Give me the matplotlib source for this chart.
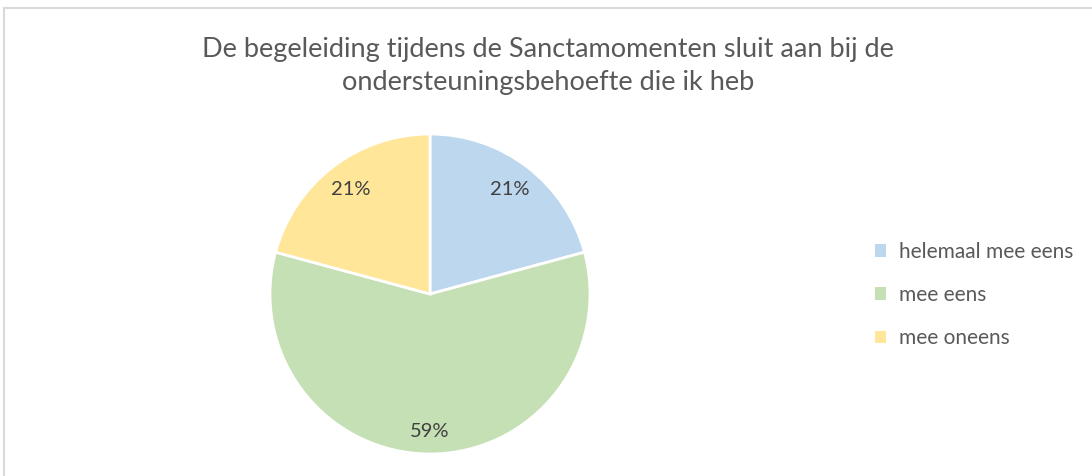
import matplotlib
matplotlib.use("Agg")
import matplotlib.pyplot as plt
from matplotlib.patches import Patch, Rectangle
import numpy as np

title = "De begeleiding tijdens de Sanctamomenten sluit aan bij de\nondersteuningsbehoefte die ik heb"
categories = ["helemaal mee eens", "mee eens", "mee oneens"]
percentages = [21, 59, 21]
pct_labels = ["21%", "59%", "21%"]
colors = ["#BDD7EE", "#C5E0B4", "#FFE699"]

W, H = 1092, 476
fig = plt.figure(figsize=(W / 100, H / 100), dpi=100)
fig.patch.set_facecolor("white")
plt.rcParams["font.family"] = ["Lato", "DejaVu Sans"]

# chart border
fig.add_artist(Rectangle((4 / W, -0.01), 1.1, (H - 8) / H + 0.01, transform=fig.transFigure,
                         fill=False, edgecolor="#D9D9D9", linewidth=1.5))

cx, cy, r = 430, 294, 160
ax = fig.add_axes([(cx - r) / W, (H - cy - r) / H, 2 * r / W, 2 * r / H])
wedges, _ = ax.pie(percentages, colors=colors, startangle=90, counterclock=False,
                   radius=1, wedgeprops=dict(edgecolor="white", linewidth=2))
ax.set_xlim(-1, 1)
ax.set_ylim(-1, 1)
ax.set_aspect("equal")
ax.axis("off")

total = sum(percentages)
start = 90.0
dists = [0.82, 0.86, 0.82]
for val, lab, d in zip(percentages, pct_labels, dists):
    sweep = 360.0 * val / total
    mid = np.deg2rad(start - sweep / 2)
    ax.text(d * np.cos(mid), d * np.sin(mid), lab, ha="center", va="center",
            fontsize=14.5, color="#404040")
    start -= sweep

fig.text(548 / W, 1 - 66 / H, title, ha="center", va="center", fontsize=19.5,
         color="#595959", linespacing=1.4)

handles = [Patch(facecolor=c, edgecolor="none") for c in colors]
leg = fig.legend(handles, categories, loc="upper left", bbox_to_anchor=(856 / W, 1 - 223 / H),
                 frameon=False, fontsize=15, handlelength=0.55, handleheight=0.55,
                 handletextpad=0.6, labelspacing=1.12, labelcolor="#595959")

fig.savefig("out.png", dpi=100, facecolor="white")
